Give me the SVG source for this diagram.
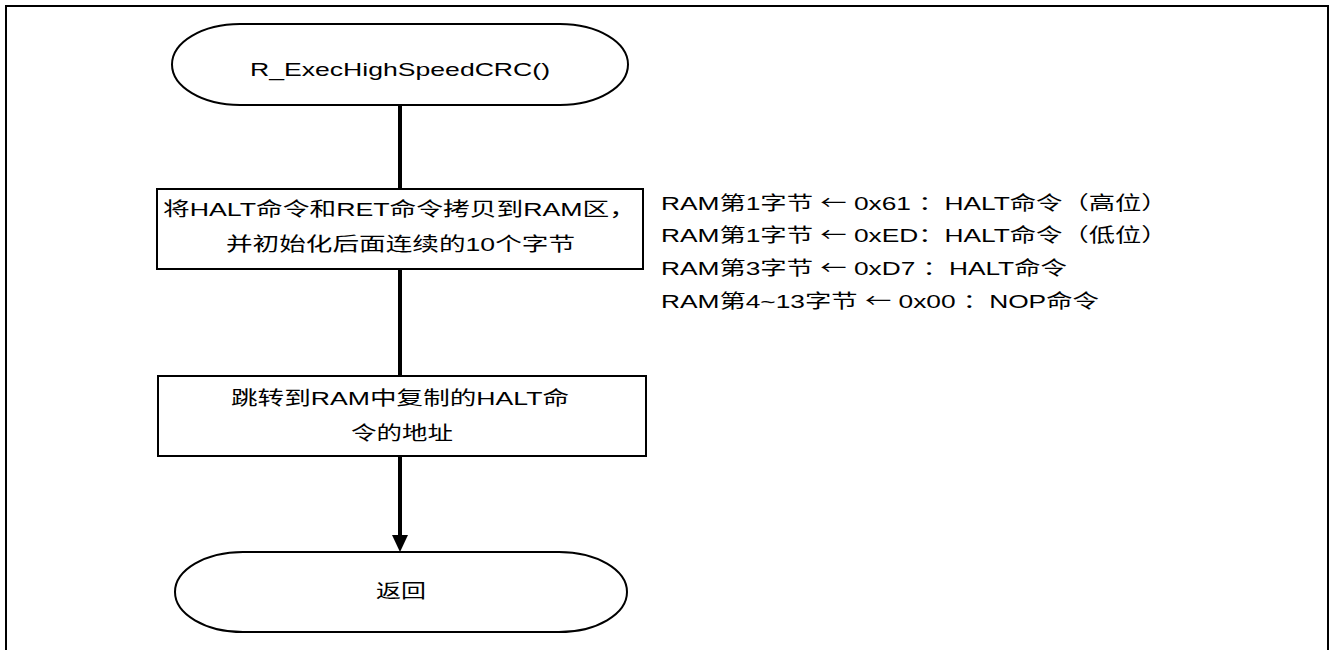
<svg xmlns="http://www.w3.org/2000/svg" width="1332" height="650" viewBox="0 0 1332 650">
<style>
text{font-family:"Liberation Sans","Noto Sans CJK SC",Arial,sans-serif;font-size:19px;fill:#000}
.c{text-anchor:middle}
.ar{font-family:"Noto Sans CJK SC",sans-serif}
.shape{fill:#fff;stroke:#000;stroke-width:2}
.conn{stroke:#000;stroke-width:4;fill:none}
</style>
<rect x="6" y="6" width="1322" height="660" fill="none" stroke="#000" stroke-width="2"/>
<g id="connectors">
<line class="conn" x1="400" y1="105" x2="400" y2="189"/>
<line class="conn" x1="400" y1="269" x2="400" y2="376"/>
<line class="conn" x1="400" y1="456" x2="400" y2="536"/>
<path d="M392,535 L408,535 L400,552 Z" fill="#000"/>
</g>
<g id="start">
<rect class="shape" x="172" y="24" width="456" height="81" rx="68" ry="40.5"/>
<text class="c" x="400" y="75.5" textLength="300" lengthAdjust="spacingAndGlyphs">R_ExecHighSpeedCRC()</text>
</g>
<g id="copy">
<rect class="shape" x="157" y="189" width="486" height="80"/>
<text class="c" x="399.5" y="216" textLength="473" lengthAdjust="spacingAndGlyphs">将HALT命令和RET命令拷贝到RAM区，</text>
<text class="c" x="400.5" y="250.5" textLength="349" lengthAdjust="spacingAndGlyphs">并初始化后面连续的10个字节</text>
</g>
<g id="jump">
<rect class="shape" x="158" y="376" width="488" height="80"/>
<text class="c" x="400" y="404.5" textLength="338" lengthAdjust="spacingAndGlyphs">跳转到RAM中复制的HALT命</text>
<text class="c" x="402" y="439.5" textLength="102" lengthAdjust="spacingAndGlyphs">令的地址</text>
</g>
<g id="end">
<rect class="shape" x="175" y="552" width="452" height="80" rx="68" ry="40"/>
<text class="c" x="401" y="597.5" textLength="50" lengthAdjust="spacingAndGlyphs">返回</text>
</g>
<g id="notes" transform="translate(661 0) scale(1.385 1)">
<text x="0" y="210">RAM第1字节 <tspan class="ar">←</tspan> 0x61 ：HALT命令（高位）</text>
<text x="0" y="242">RAM第1字节 <tspan class="ar">←</tspan> 0xED：HALT命令（低位）</text>
<text x="0" y="275">RAM第3字节 <tspan class="ar">←</tspan> 0xD7 ：HALT命令</text>
<text x="0" y="308">RAM第4~13字节 <tspan class="ar">←</tspan> 0x00 ：NOP命令</text>
</g>
</svg>
